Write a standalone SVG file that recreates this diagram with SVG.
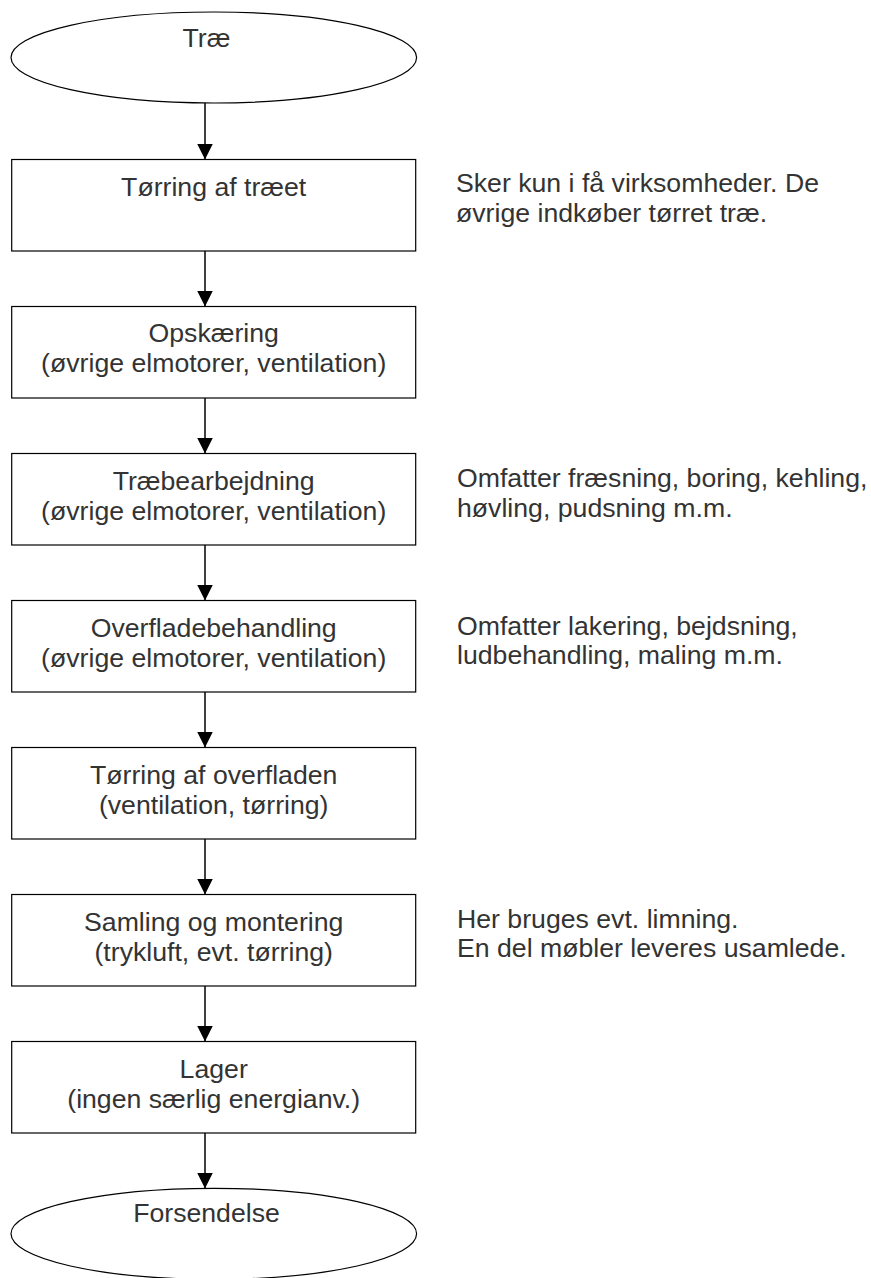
<svg xmlns="http://www.w3.org/2000/svg" width="871" height="1278" viewBox="0 0 871 1278">
  <style>
    .shape { fill: #ffffff; stroke: #000000; stroke-width: 1.2; }
    .label { font-family: "Liberation Sans", Arial, sans-serif; font-size: 26.67px; fill: #333333; }
    .mid { text-anchor: middle; }
    .link { fill: none; stroke: #000000; stroke-width: 1.5; }
  </style>
  <defs>
    <marker id="arrow" markerUnits="userSpaceOnUse" markerWidth="16" markerHeight="16" viewBox="0 0 16 16" refX="16" refY="8" orient="auto">
      <path d="M0,0 L16,8 L0,16 Z" fill="#000000"/>
    </marker>
  </defs>
  <rect width="871" height="1278" fill="#ffffff"/>

  <!-- process flow connectors -->
  <g id="connectors">
    <line class="link" x1="205" y1="103" x2="205" y2="159.5" marker-end="url(#arrow)"/>
    <line class="link" x1="205" y1="251" x2="205" y2="306.5" marker-end="url(#arrow)"/>
    <line class="link" x1="205" y1="398" x2="205" y2="453.5" marker-end="url(#arrow)"/>
    <line class="link" x1="205" y1="545" x2="205" y2="600.5" marker-end="url(#arrow)"/>
    <line class="link" x1="205" y1="692" x2="205" y2="747.5" marker-end="url(#arrow)"/>
    <line class="link" x1="205" y1="839" x2="205" y2="894.5" marker-end="url(#arrow)"/>
    <line class="link" x1="205" y1="986" x2="205" y2="1041.5" marker-end="url(#arrow)"/>
    <line class="link" x1="205" y1="1133" x2="205" y2="1188.5" marker-end="url(#arrow)"/>
  </g>

  <g id="start">
    <ellipse class="shape" cx="213.8" cy="57.5" rx="202.8" ry="45.5"/>
    <text class="label mid" x="206.5" y="46.5">Træ</text>
  </g>

  <g id="drying-wood">
    <rect class="shape" x="11.7" y="159.5" width="404" height="91.5"/>
    <text class="label mid" x="213.7" y="195.5">Tørring af træet</text>
  </g>

  <g id="cutting">
    <rect class="shape" x="11.7" y="306.5" width="404" height="91.5"/>
    <text class="label mid" x="213.7" y="342">Opskæring</text>
    <text class="label mid" x="213.7" y="372">(øvrige elmotorer, ventilation)</text>
  </g>

  <g id="woodworking">
    <rect class="shape" x="11.7" y="453.5" width="404" height="91.5"/>
    <text class="label mid" x="213.7" y="489.5">Træbearbejdning</text>
    <text class="label mid" x="213.7" y="519.5">(øvrige elmotorer, ventilation)</text>
  </g>

  <g id="surface-treatment">
    <rect class="shape" x="11.7" y="600.5" width="404" height="91.5"/>
    <text class="label mid" x="213.7" y="636.5">Overfladebehandling</text>
    <text class="label mid" x="213.7" y="666.5">(øvrige elmotorer, ventilation)</text>
  </g>

  <g id="surface-drying">
    <rect class="shape" x="11.7" y="747.5" width="404" height="91.5"/>
    <text class="label mid" x="213.7" y="783.5">Tørring af overfladen</text>
    <text class="label mid" x="213.7" y="813.5">(ventilation, tørring)</text>
  </g>

  <g id="assembly">
    <rect class="shape" x="11.7" y="894.5" width="404" height="91.5"/>
    <text class="label mid" x="213.7" y="930.5">Samling og montering</text>
    <text class="label mid" x="213.7" y="960.5">(trykluft, evt. tørring)</text>
  </g>

  <g id="storage">
    <rect class="shape" x="11.7" y="1041.5" width="404" height="91.5"/>
    <text class="label mid" x="213.7" y="1077.5">Lager</text>
    <text class="label mid" x="213.7" y="1107.5">(ingen særlig energianv.)</text>
  </g>

  <g id="shipping">
    <ellipse class="shape" cx="213.8" cy="1233.8" rx="202.8" ry="45.5"/>
    <text class="label mid" x="206.5" y="1222">Forsendelse</text>
  </g>

  <!-- side notes -->
  <g id="note-drying">
    <text class="label" x="456" y="192">Sker kun i få virksomheder. De</text>
    <text class="label" x="456" y="221.5">øvrige indkøber tørret træ.</text>
  </g>
  <g id="note-woodworking">
    <text class="label" x="457" y="487">Omfatter fræsning, boring, kehling,</text>
    <text class="label" x="457" y="516.5">høvling, pudsning m.m.</text>
  </g>
  <g id="note-surface">
    <text class="label" x="457" y="634.5">Omfatter lakering, bejdsning,</text>
    <text class="label" x="457" y="664">ludbehandling, maling m.m.</text>
  </g>
  <g id="note-assembly">
    <text class="label" x="457" y="927.5">Her bruges evt. limning.</text>
    <text class="label" x="457" y="957">En del møbler leveres usamlede.</text>
  </g>
</svg>
